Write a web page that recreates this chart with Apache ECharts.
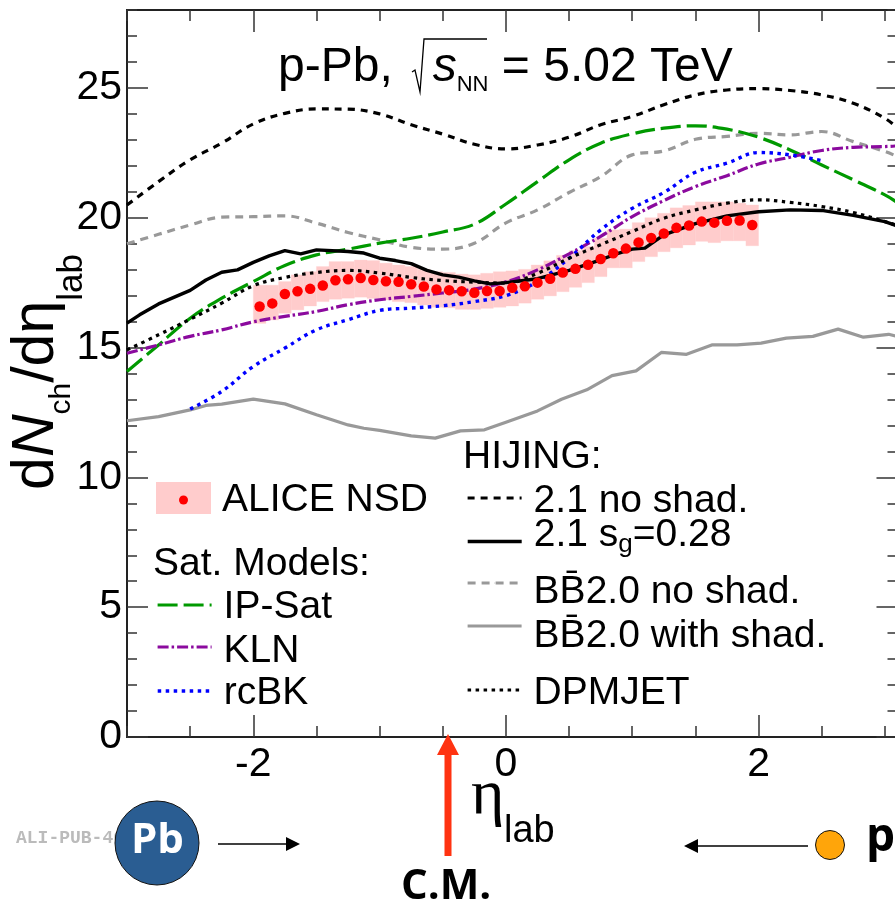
<!DOCTYPE html>
<html>
<head>
<meta charset="utf-8">
<style>html,body{margin:0;padding:0;background:#fff;overflow:hidden}#c{width:895px;height:912px}</style>
<script src="https://cdn.jsdelivr.net/npm/echarts@6/dist/echarts.min.js"></script>
</head>
<body>
<div id="c"></div>
<script>
const etaGrid = [-3,-2.75,-2.5,-2.25,-2,-1.75,-1.5,-1.25,-1,-0.75,-0.5,-0.25,0,0.25,0.5,0.75,1,1.25,1.5,1.75,2,2.25,2.5,2.75,3,3.1];

const hijingNoShad = [20.49,21.39,22.23,22.87,23.61,24.02,24.19,24.18,24.0,23.58,23.22,22.83,22.65,22.80,23.10,23.58,23.90,24.35,24.73,24.92,24.97,24.9,24.73,24.41,23.83,23.45];
const dpmjet = [14.91,15.49,16.09,16.71,17.38,17.7,17.89,17.97,17.87,17.7,17.58,17.52,17.48,17.86,18.44,18.96,19.47,19.98,20.3,20.56,20.69,20.59,20.43,20.2,19.85,19.7];
const ipSat = [14.08,15.1,16.13,16.9,17.54,18.16,18.57,18.79,19.02,19.21,19.45,19.75,20.53,21.39,22.23,22.87,23.23,23.45,23.54,23.41,23.1,22.61,22.03,21.46,20.88,20.58];
const kln = [14.78,15.1,15.43,15.68,15.99,16.2,16.39,16.65,16.84,16.97,17.1,17.25,17.53,17.99,18.61,19.28,20.04,20.66,21.2,21.62,22.07,22.33,22.59,22.71,22.74,22.77];
const bbNoShad = [19.0,19.36,19.72,20.02,20.04,20.07,19.79,19.43,19.15,18.86,18.79,19.02,19.8,20.3,20.97,21.58,22.42,22.57,23.02,23.13,23.25,23.19,23.32,22.93,22.55,22.35];

const rcbkEta = [-2.5,-2.25,-2,-1.75,-1.5,-1.25,-1,-0.75,-0.5,-0.25,0,0.25,0.5,0.75,1,1.25,1.5,1.75,2,2.25,2.5];
const rcbk = [12.63,13.31,14.27,14.98,15.68,16.07,16.43,16.52,16.61,16.77,17.0,17.54,18.44,19.53,20.36,20.97,21.75,22.1,22.51,22.42,22.2];

const hijingShadEta = [-3,-2.9,-2.75,-2.5,-2.375,-2.25,-2.125,-2,-1.875,-1.75,-1.625,-1.5,-1.25,-1.125,-1,-0.875,-0.75,-0.625,-0.5,-0.375,-0.25,-0.125,0,0.25,0.5,0.75,0.875,1,1.1,1.25,1.5,1.75,2,2.25,2.5,2.75,3,3.1];
const hijingShad = [15.94,16.26,16.68,17.2,17.6,17.9,17.99,18.28,18.53,18.73,18.61,18.76,18.7,18.64,18.44,18.35,18.23,17.97,17.8,17.71,17.57,17.45,17.5,17.65,17.97,18.38,18.61,18.79,18.83,19.34,19.77,20.07,20.23,20.30,20.28,20.09,19.85,19.68];

const bbShadEta = [-3,-2.75,-2.5,-2.375,-2.25,-2,-1.75,-1.5,-1.25,-1.125,-1,-0.75,-0.56,-0.36,-0.17,0,0.25,0.44,0.64,0.84,1.03,1.23,1.43,1.63,1.83,2.02,2.22,2.43,2.63,2.83,3.03,3.1];
const bbShad = [12.18,12.34,12.6,12.77,12.82,13.01,12.83,12.41,12.02,11.89,11.81,11.6,11.51,11.79,11.83,12.12,12.56,13.01,13.37,13.92,14.1,14.81,14.74,15.1,15.1,15.17,15.36,15.43,15.71,15.4,15.51,15.43];

const aliceEta = [-1.95,-1.85,-1.75,-1.65,-1.55,-1.45,-1.35,-1.25,-1.15,-1.05,-0.95,-0.85,-0.75,-0.65,-0.55,-0.45,-0.35,-0.25,-0.15,-0.05,0.05,0.15,0.25,0.35,0.45,0.55,0.65,0.75,0.85,0.95,1.05,1.15,1.25,1.35,1.45,1.55,1.65,1.75,1.85,1.95];
const aliceVal = [16.58,16.70,17.06,17.17,17.26,17.39,17.59,17.63,17.68,17.60,17.55,17.53,17.44,17.35,17.24,17.21,17.17,17.11,17.18,17.18,17.30,17.36,17.50,17.65,17.89,18.03,18.19,18.41,18.63,18.81,19.05,19.22,19.39,19.61,19.70,19.85,19.81,19.88,19.89,19.72];
const aliceHigh = [17.40,17.40,17.54,17.80,17.92,18.12,18.31,18.31,18.37,18.35,18.25,18.18,18.12,18.01,17.92,17.89,17.83,17.80,17.86,17.92,17.95,18.01,18.18,18.34,18.55,18.73,18.89,19.21,19.53,19.56,19.81,20.0,20.17,20.38,20.47,20.61,20.61,20.61,20.56,20.49];
const aliceLow = [15.93,16.06,16.32,16.45,16.60,16.77,16.86,16.90,16.94,16.89,16.83,16.77,16.73,16.64,16.55,16.53,16.47,16.47,16.51,16.55,16.60,16.71,16.86,16.99,17.15,17.32,17.50,17.73,18.07,18.07,18.31,18.50,18.69,18.84,18.95,19.09,19.04,19.11,19.11,18.92];
const aliceBinWidth = 0.1;

const xMajorTicks = [-2,0,2];
const yMajorTicks = [0,5,10,15,20,25];

const FONT = 'Liberation Sans, Arial, sans-serif';
const AXIS = '#222';
const zip = (a, b) => a.map((v, i) => [v, b[i]]);

function lineSeries(name, xs, ys, color, width, dash, smooth, z) {
  return {
    name, type: 'line', data: zip(xs, ys), showSymbol: false, symbol: 'none',
    smooth: smooth, z: z, silent: true,
    lineStyle: { color, width, type: dash, cap: 'butt', join: 'round' },
    itemStyle: { color }
  };
}

const series = [
  {
    name: 'ALICE syst', type: 'custom', z: 1, silent: true,
    data: aliceEta.map((e, i) => [e, aliceLow[i], aliceHigh[i]]),
    encode: { x: 0, y: [1, 2] },
    renderItem(params, api) {
      const a = api.coord([api.value(0) - aliceBinWidth / 2, api.value(2)]);
      const b = api.coord([api.value(0) + aliceBinWidth / 2, api.value(1)]);
      return { type: 'rect', shape: { x: a[0], y: a[1], width: b[0] - a[0], height: b[1] - a[1] },
        style: { fill: '#ffcccc', stroke: '#ffcccc', lineWidth: 0.3 } };
    }
  },
  lineSeries('2.1 no shad.', etaGrid, hijingNoShad, '#000', 3.2, [7, 6], 0.4, 3),
  lineSeries('BB\u03042.0 no shad.', etaGrid, bbNoShad, '#999', 3.2, [8, 6], 0.4, 3),
  lineSeries('BB\u03042.0 with shad.', bbShadEta, bbShad, '#999', 3.2, 'solid', false, 3),
  lineSeries('IP-Sat', etaGrid, ipSat, '#009900', 3.2, [20, 6], 0.4, 4),
  lineSeries('KLN', etaGrid, kln, '#8b0a9e', 3.2, [11, 3, 2.5, 3], 0.4, 4),
  lineSeries('rcBK', rcbkEta, rcbk, '#0000ff', 3.4, [3.5, 4.5], 0.4, 5),
  lineSeries('2.1 s_g=0.28', hijingShadEta, hijingShad, '#000', 3.4, 'solid', false, 5),
  lineSeries('DPMJET', etaGrid, dpmjet, '#000', 3.2, [3.5, 4.5], 0.4, 5),
  { name: 'ALICE NSD', type: 'scatter', data: zip(aliceEta, aliceVal), symbol: 'circle', symbolSize: 10.5, z: 6, silent: true,
    itemStyle: { color: '#ff0000', opacity: 1 } }
];

const legendEntries = [
  { name: 'IP-Sat', left: 156, lineY: 605, textY: 605 },
  { name: 'KLN', left: 156, lineY: 647, textY: 649 },
  { name: 'rcBK', left: 156, lineY: 691, textY: 691 },
  { name: '2.1 no shad.', left: 466, lineY: 498, textY: 499 },
  { name: '2.1 s_g=0.28', left: 466, lineY: 540, textY: 533 },
  { name: 'BB\u03042.0 no shad.', left: 466, lineY: 583, textY: 590 },
  { name: 'BB\u03042.0 with shad.', left: 466, lineY: 626, textY: 634 },
  { name: 'DPMJET', left: 466, lineY: 690, textY: 691 }
];

const legends = legendEntries.map(e => {
  const d = e.textY - e.lineY + 2;
  return {
    show: true, data: [e.name], left: e.left, top: e.textY - 17.5, itemWidth: 54, itemHeight: 1,
    selectedMode: false, padding: 0,
    lineStyle: { width: 'inherit' },
    formatter: n => n === '2.1 s_g=0.28' ? '{m|2.1 s}{sub|g}{m|=0.28}' : n,
    textStyle: {
      fontFamily: FONT, fontSize: 39, color: '#000',
      padding: [d > 0 ? 2 * d : 0, 0, d < 0 ? -2 * d : 0, 7],
      rich: {
        m: { fontFamily: FONT, fontSize: 39, color: '#000', verticalAlign: 'bottom', padding: [0, 0, 3, 0] },
        sub: { fontFamily: FONT, fontSize: 26, verticalAlign: 'bottom', color: '#000' }
      }
    }
  };
});
legends.push({
  show: true, data: [{ name: 'ALICE NSD', icon: 'circle' }], left: 179, top: 480.5, itemWidth: 9, itemHeight: 9,
  selectedMode: false, padding: 0,
  textStyle: { fontFamily: FONT, fontSize: 39, color: '#000', padding: [8, 0, 0, 29] }
});

const xBase = { type: 'value', min: -3, max: 3.1, splitLine: { show: false },
  axisLine: { onZero: false, lineStyle: { color: AXIS, width: 2 } } };
const yBase = { type: 'value', min: 0, max: 28, splitLine: { show: false },
  axisLine: { onZero: false, lineStyle: { color: AXIS, width: 2 } } };
const tickStyle = { color: '#333', width: 1.5 };

const option = {
  backgroundColor: '#fff',
  animation: false,
  title: {
    left: 278, top: 44, padding: 0,
    text: '{m|p-Pb,   }{s|s}{n|NN}{m| = 5.02 TeV}',
    textStyle: { fontFamily: FONT, fontSize: 48, fontWeight: 'normal', color: '#000',
      rich: {
        m: { fontFamily: FONT, fontSize: 48, color: '#000', verticalAlign: 'bottom', padding: [0, 0, 4, 0] },
        s: { fontFamily: FONT, fontSize: 48, fontStyle: 'italic', color: '#000', verticalAlign: 'bottom', padding: [0, 0, 4, 0] },
        n: { fontFamily: FONT, fontSize: 22, verticalAlign: 'bottom', color: '#000' }
      } }
  },
  grid: { left: 127, top: 10, width: 770.5, height: 727, containLabel: false, outerBoundsMode: 'none' },
  legend: legends,
  xAxis: [
    Object.assign({}, xBase, { position: 'bottom',
      axisTick: { show: true, inside: true, length: 22, customValues: xMajorTicks, lineStyle: tickStyle },
      axisLabel: { show: true, customValues: xMajorTicks, margin: 7, formatter: v => String(v),
        fontFamily: FONT, fontSize: 41, color: '#000' } }),
    Object.assign({}, xBase, { position: 'top',
      axisTick: { show: true, inside: true, length: 22, customValues: xMajorTicks, lineStyle: tickStyle },
      axisLabel: { show: false } }),
    Object.assign({}, xBase, { position: 'bottom', interval: 0.5,
      axisTick: { show: true, inside: true, length: 11, lineStyle: tickStyle }, axisLabel: { show: false } }),
    Object.assign({}, xBase, { position: 'top', interval: 0.5,
      axisTick: { show: true, inside: true, length: 11, lineStyle: tickStyle }, axisLabel: { show: false } })
  ],
  yAxis: [
    Object.assign({}, yBase, { position: 'left',
      name: '{m|d}{i|N}{c|ch}{m|/d\u03b7}{s|lab}', nameLocation: 'middle', nameGap: 25, nameRotate: 90, nameMoveOverlap: false,
      nameTextStyle: { fontFamily: FONT, fontSize: 59, color: '#000', padding: [0, 0, 12, 3],
        rich: {
          m: { fontFamily: FONT, fontSize: 59, color: '#000', verticalAlign: 'bottom', padding: [0, 0, 24, 0] },
          i: { fontFamily: FONT, fontSize: 59, fontStyle: 'italic', color: '#000', verticalAlign: 'bottom', padding: [0, 0, 24, 0] },
          c: { fontFamily: FONT, fontSize: 30, verticalAlign: 'bottom', color: '#000', padding: [0, 0, 13, 0] },
          s: { fontFamily: FONT, fontSize: 35, verticalAlign: 'bottom', color: '#000' }
        } },
      axisTick: { show: true, inside: true, length: 21, customValues: yMajorTicks, lineStyle: tickStyle },
      axisLabel: { show: true, customValues: yMajorTicks, margin: 5, padding: [4, 0, 0, 0], fontFamily: FONT, fontSize: 41, color: '#000' } }),
    Object.assign({}, yBase, { position: 'right',
      axisTick: { show: true, inside: true, length: 21, customValues: yMajorTicks, lineStyle: tickStyle },
      axisLabel: { show: false } }),
    Object.assign({}, yBase, { position: 'left', interval: 1,
      axisTick: { show: true, inside: true, length: 10, lineStyle: tickStyle }, axisLabel: { show: false } }),
    Object.assign({}, yBase, { position: 'right', interval: 1,
      axisTick: { show: true, inside: true, length: 10, lineStyle: tickStyle }, axisLabel: { show: false } })
  ],
  series,
  graphic: [
    { type: 'rect', z: 1, shape: { x: 156, y: 482, width: 55, height: 32 }, style: { fill: '#ffcccc' } },
    { type: 'text', z: 10, x: 463, y: 438, style: { text: 'HIJING:', font: '39px ' + FONT, fill: '#000' } },
    { type: 'text', z: 10, x: 153, y: 545, style: { text: 'Sat. Models:', font: '39px ' + FONT, fill: '#000' } },
    { type: 'polyline', z: 10, shape: { points: [[412, 72], [415, 70], [420, 92], [424, 39], [487, 39]] },
      style: { stroke: '#000', lineWidth: 1.3, fill: null } },
    { type: 'text', z: 10, x: 471, y: 764, style: { text: '\u03b7', font: '64px "Liberation Serif", serif', fill: '#000' } },
    { type: 'text', z: 10, x: 504, y: 813, style: { text: 'lab', font: '38px ' + FONT, fill: '#000' } },
    { type: 'polygon', z: 10, shape: { points: [[448, 734], [459, 755], [451.5, 755], [451.5, 856], [444.5, 856], [444.5, 755], [437, 755]] },
      style: { fill: '#ff3311' } },
    { type: 'text', z: 9, x: 16, y: 829, style: { text: 'ALI-PUB-46', font: 'bold 18px "Liberation Mono", monospace', fill: '#bbbbbb' } },
    { type: 'circle', z: 10, shape: { cx: 157, cy: 843, r: 42 }, style: { fill: '#2a5d92', stroke: '#111', lineWidth: 1 } },
    { type: 'text', z: 11, x: 131, y: 820, style: { text: 'Pb', font: 'bold 42px "Open Sans", sans-serif', fill: '#fff' } },
    { type: 'line', z: 10, shape: { x1: 218, y1: 844, x2: 288, y2: 844 }, style: { stroke: '#000', lineWidth: 1.6 } },
    { type: 'polygon', z: 10, shape: { points: [[300, 844], [286, 837], [286, 851]] }, style: { fill: '#000' } },
    { type: 'line', z: 10, shape: { x1: 696, y1: 846, x2: 808, y2: 846 }, style: { stroke: '#000', lineWidth: 1.6 } },
    { type: 'polygon', z: 10, shape: { points: [[684, 846], [698, 839], [698, 853]] }, style: { fill: '#000' } },
    { type: 'circle', z: 10, shape: { cx: 830, cy: 845, r: 14.5 }, style: { fill: '#ffa50a', stroke: '#111', lineWidth: 1 } },
    { type: 'text', z: 10, x: 866, y: 815, style: { text: 'p', font: 'bold 46px "Open Sans", sans-serif', fill: '#000' } },
    { type: 'text', z: 10, x: 401, y: 866, style: { text: 'C.M.', font: 'bold 42px "Open Sans", sans-serif', fill: '#000' } }
  ]
};

const chart = echarts.init(document.getElementById('c'), null, { renderer: 'canvas' });
chart.setOption(option);
</script>
</body>
</html>
